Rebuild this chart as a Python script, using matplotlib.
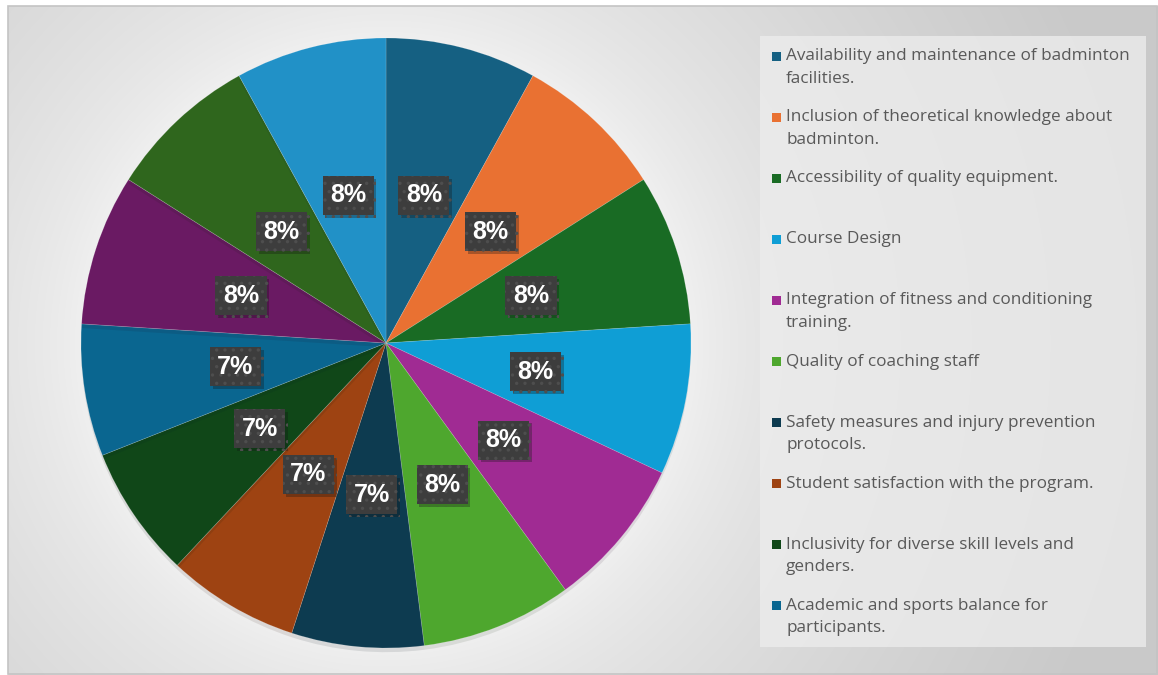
import numpy as np
import matplotlib.pyplot as plt
from matplotlib.patches import Rectangle
import matplotlib.patheffects as pe

# share of responses per factor, clockwise from 12 o'clock
SHARES = [8, 8, 8, 8, 8, 8, 7, 7, 7, 7, 8, 8, 8]
SLICE_COLORS = ["#156082", "#E97132", "#196B24", "#0F9ED5", "#A02B93", "#4EA72E",
                "#0D3B50", "#9E4312", "#104718", "#0A6690", "#6A1A63", "#2F661D",
                "#2191C7"]
LEGEND_LABELS = [
    "Availability and maintenance of badminton\nfacilities.",
    "Inclusion of theoretical knowledge about\nbadminton.",
    "Accessibility of quality equipment.",
    "Course Design",
    "Integration of fitness and conditioning\ntraining.",
    "Quality of coaching staff",
    "Safety measures and injury prevention\nprotocols.",
    "Student satisfaction with the program.",
    "Inclusivity for diverse skill levels and\ngenders.",
    "Academic and sports balance for\nparticipants.",
]

W, H = 1158, 675
fig = plt.figure(figsize=(W / 100, H / 100), dpi=100)
fig.patch.set_facecolor("white")

# background layer in pixel coordinates
bg = fig.add_axes([0, 0, 1, 1])
bg.set_xlim(0, W)
bg.set_ylim(H, 0)
bg.axis("off")

cx, cy, R = 386, 343, 305
yy, xx = np.mgrid[6:H, 8:W]
r = np.hypot(xx - cx, yy - cy)
t = np.clip((r - 290) / 470, 0, 1) ** 0.6
shade = 0.96 - 0.17 * t
bg.imshow(np.dstack([shade] * 3), extent=(8, W, H, 6), interpolation="bilinear",
          zorder=0)
bg.add_patch(Rectangle((8, 6), W - 9, H - 7, fill=False, edgecolor="#c4c4c4",
                       linewidth=1.2, zorder=1))

# legend panel
bg.add_patch(Rectangle((760, 36), 386, 611, facecolor="#ececec", alpha=0.8,
                       edgecolor="none", zorder=1))
for i, label in enumerate(LEGEND_LABELS):
    yc = 56 + i * 61.1
    bg.add_patch(Rectangle((772, yc - 4.5), 9, 9, facecolor=SLICE_COLORS[i],
                           edgecolor="none", zorder=2))
    bg.text(786, yc - 8, label, va="top", ha="left", fontsize=12.3,
            family="Open Sans", color="#595959", linespacing=1.55, zorder=3)

# pie
ax = fig.add_axes([(cx - R) / W, (H - cy - R) / H, 2 * R / W, 2 * R / H])
wedges, _, autotexts = ax.pie(
    SHARES, colors=SLICE_COLORS, startangle=90, counterclock=False,
    autopct="%1.0f%%", pctdistance=0.5, radius=1,
    wedgeprops={"linewidth": 0.5, "edgecolor": (1, 1, 1, 0.2)},
    textprops={"color": "white", "fontsize": 18, "fontweight": "bold",
               "family": "Liberation Sans"})
ax.set_xlim(-1, 1)
ax.set_ylim(-1, 1)
ax.set_aspect("equal")
ax.axis("off")

for w in wedges:
    w.set_path_effects([pe.SimplePatchShadow(offset=(0, -3), alpha=0.1),
                        pe.Normal()])

plt.rcParams["hatch.linewidth"] = 1.2
for txt in autotexts:
    txt.set_bbox({"boxstyle": "square,pad=0.3", "facecolor": "#3d3d3d",
                  "edgecolor": "#4e4e4e", "linewidth": 0, "hatch": ".."})
    txt.get_bbox_patch().set_path_effects(
        [pe.SimplePatchShadow(offset=(2, -2), alpha=0.3), pe.Normal()])

fig.savefig("out.png", dpi=100)
